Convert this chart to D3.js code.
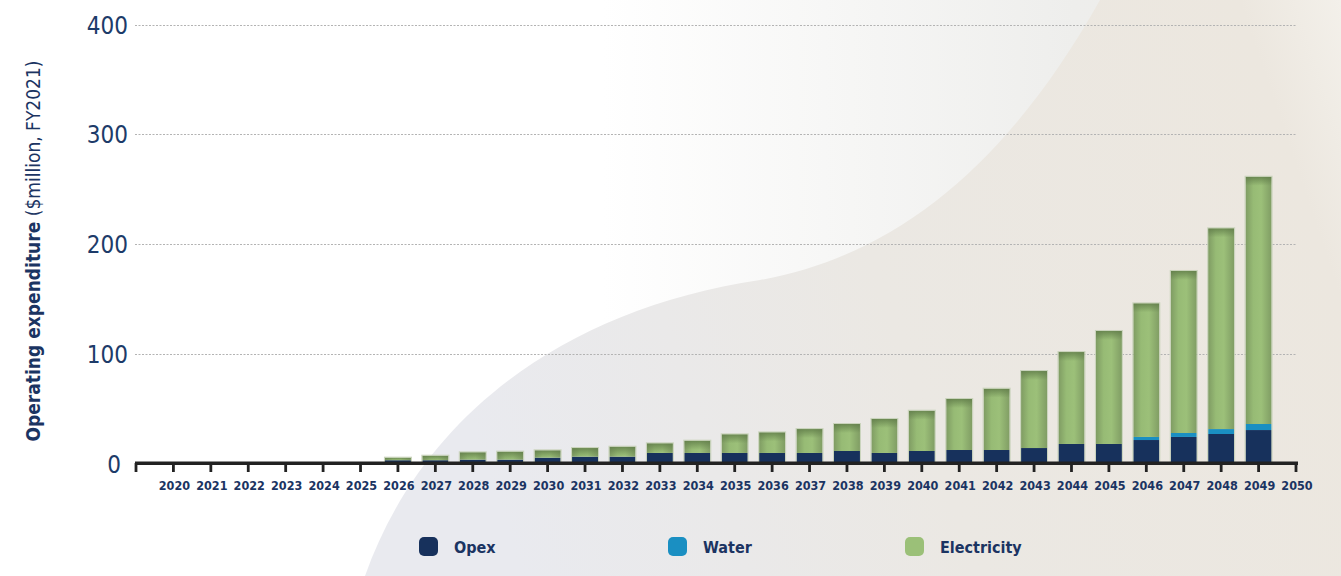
<!doctype html>
<html>
  <head>
    <script src="https://cdn.jsdelivr.net/npm/d3@7/dist/d3.min.js"></script>
    <style>
      body, html {
        margin: 0;
        background: #fff;
      }
      svg {
        display: block;
        font-family: "DejaVu Sans Condensed", "DejaVu Sans", sans-serif;
      }
      .grid line {
        stroke: #b3b3b3;
        stroke-width: 1;
        stroke-dasharray: 2,1.5;
      }
      .ylab {
        fill: #1d3b69;
        font-size: 24px;
      }
      .xlab {
        fill: #1b3462;
        font-size: 12.5px;
        font-weight: bold;
      }
      .legend text {
        fill: #1b3462;
        font-size: 16px;
        font-weight: bold;
      }
    </style>
  </head>
  <body>
    <svg width="1341" height="576"></svg>
    <script>

      var years = d3.range(2020, 2050);
      var opex = [0, 0, 0, 0, 0, 0, 3, 3, 3.5, 3.5, 5.3, 6.2, 6.2, 9.6, 9.6, 9.6, 9.6, 9.6, 11.4, 9.6,
                  11.4, 12.3, 12.3, 14.1, 17.8, 17.8, 21.4, 24.2, 26.9, 30.5];
      var water = [0, 0, 0, 0, 0, 0, 0, 0, 0, 0, 0, 0, 0, 0, 0, 0, 0, 0, 0, 0,
                   0, 0, 0, 0, 0, 0, 2.8, 3.6, 4.5, 5.5];
      var electricity = [0, 0, 0, 0, 0, 0, 2.3, 4.1, 6.7, 7.3, 6.7, 7.9, 9.1, 8.8, 11.2, 17.0, 18.8, 21.8, 24.6, 31.0,
                         36.7, 46.5, 55.9, 70.2, 83.8, 103.0, 121.8, 147.7, 183.0, 225.4];
      var seriesNames = ["Opex", "Water", "Electricity"];
      var seriesColors = ["#17315c", "#1a8fc2", "#9bc078"];
      var yTicks = [0, 100, 200, 300, 400];
      var tickYears = d3.range(2019, 2051);

      var svg = d3.select("svg");
      var defs = svg.append("defs");

      // background
      var bg = defs.append("linearGradient").attr("id", "bg")
        .attr("x1", 0).attr("x2", 1).attr("y1", 0).attr("y2", 0);
      bg.append("stop").attr("offset", 0.45).attr("stop-color", "#ffffff");
      bg.append("stop").attr("offset", 0.8).attr("stop-color", "#eeeeec");
      bg.append("stop").attr("offset", 1).attr("stop-color", "#efece7");

      var wave = defs.append("linearGradient").attr("id", "wave")
        .attr("x1", 0).attr("x2", 1).attr("y1", 0.2).attr("y2", 0);
      wave.append("stop").attr("offset", 0).attr("stop-color", "#e9eaef");
      wave.append("stop").attr("offset", 0.45).attr("stop-color", "#ebe8e3");
      wave.append("stop").attr("offset", 0.9).attr("stop-color", "#ece7df");
      wave.append("stop").attr("offset", 1).attr("stop-color", "#f3f0ea");

      svg.append("rect").attr("width", 1341).attr("height", 576).attr("fill", "url(#bg)");
      svg.append("path")
        .attr("d", "M365,576 C420,420 560,310 760,280 C900,255 1010,160 1100,0 L1341,0 L1341,576 Z")
        .attr("fill", "url(#wave)");

      // bar shading
      var green = defs.append("linearGradient").attr("id", "green")
        .attr("x1", 0).attr("x2", 1).attr("y1", 0).attr("y2", 0);
      green.append("stop").attr("offset", 0).attr("stop-color", "#7f9c63");
      green.append("stop").attr("offset", 0.3).attr("stop-color", "#97bb75");
      green.append("stop").attr("offset", 0.6).attr("stop-color", "#9cc079");
      green.append("stop").attr("offset", 1).attr("stop-color", "#809d64");

      var topShade = defs.append("linearGradient").attr("id", "topShade")
        .attr("x1", 0).attr("x2", 0).attr("y1", 0).attr("y2", 1);
      topShade.append("stop").attr("offset", 0).attr("stop-color", "#5f7b48").attr("stop-opacity", 0.8);
      topShade.append("stop").attr("offset", 1).attr("stop-color", "#5f7b48").attr("stop-opacity", 0);

      var x = d3.scaleLinear().domain([2019, 2050]).range([136, 1296]);
      var y = d3.scaleLinear().domain([0, 400]).range([463.5, 24.7]);
      var barW = 26;

      // gridlines
      svg.append("g").attr("class", "grid")
        .selectAll("line").data(yTicks.slice(1)).join("line")
        .attr("x1", 135).attr("x2", 1297)
        .attr("y1", d => Math.round(y(d)) + 0.5).attr("y2", d => Math.round(y(d)) + 0.5);

      svg.append("g").selectAll("text").data(yTicks).join("text")
        .attr("class", "ylab")
        .attr("x", d => d === 0 ? 121 : 128)
        .attr("y", d => y(d) + 9)
        .attr("text-anchor", "end")
        .text(d => d);

      // stacked bars
      var rows = years.map((yr, i) => ({year: yr, Opex: opex[i], Water: water[i], Electricity: electricity[i]}));
      var stacked = d3.stack().keys(seriesNames)(rows);

      var layers = svg.append("g").selectAll("g").data(stacked).join("g");
      layers.selectAll("rect").data(d => d.filter(p => p[1] > p[0])).join("rect")
        .attr("x", d => x(d.data.year) - barW / 2)
        .attr("width", barW)
        .attr("y", d => y(d[1]))
        .attr("height", d => y(d[0]) - y(d[1]))
        .attr("fill", function (d) {
          var k = d3.select(this.parentNode).datum().key;
          return k === "Electricity" ? "url(#green)" : seriesColors[seriesNames.indexOf(k)];
        });

      var elec = stacked[2].filter(p => p[1] > p[0]);
      svg.append("g").selectAll("rect").data(elec).join("rect")
        .attr("x", d => x(d.data.year) - barW / 2)
        .attr("width", barW)
        .attr("y", d => y(d[1]))
        .attr("height", d => Math.min(9, y(d[0]) - y(d[1])))
        .attr("fill", "url(#topShade)");

      svg.append("g").selectAll("rect").data(elec).join("rect")
        .attr("x", d => x(d.data.year) - barW / 2 - 0.5)
        .attr("width", barW + 1)
        .attr("y", d => y(d[1]) - 0.5)
        .attr("height", d => y(0) - y(d[1]))
        .attr("fill", "none")
        .attr("stroke", "#c9d3bb")
        .attr("stroke-width", 1);

      // x axis
      var xa = svg.append("g");
      xa.append("line")
        .attr("x1", 135).attr("x2", 1298)
        .attr("y1", 463.3).attr("y2", 463.3)
        .attr("stroke", "#222").attr("stroke-width", 3.4);
      xa.selectAll("line.tick").data(tickYears).join("line")
        .attr("class", "tick")
        .attr("x1", d => x(d)).attr("x2", d => x(d))
        .attr("y1", 463).attr("y2", 472)
        .attr("stroke", "#222").attr("stroke-width", 2.8);
      xa.selectAll("text").data(tickYears.slice(1)).join("text")
        .attr("class", "xlab")
        .attr("x", d => x(d) + 1)
        .attr("y", 490)
        .attr("text-anchor", "middle")
        .text(d => d);

      // y title
      var title = svg.append("text")
        .attr("transform", "translate(40,251) rotate(-90)")
        .attr("text-anchor", "middle")
        .attr("fill", "#1b3462")
        .style("font-size", "19px");
      title.append("tspan").attr("font-weight", "bold").text("Operating expenditure");
      title.append("tspan").text(" ($million, FY2021)");

      // legend
      var legendX = [419, 668, 905];
      var lg = svg.append("g").attr("class", "legend")
        .selectAll("g").data(seriesNames).join("g")
        .attr("transform", (d, i) => "translate(" + legendX[i] + ",537)");
      lg.append("rect").attr("width", 19).attr("height", 19).attr("rx", 5)
        .attr("fill", (d, i) => seriesColors[i]);
      lg.append("text").attr("x", 35).attr("y", 16).text(d => d);

    </script>
  </body>
</html>
